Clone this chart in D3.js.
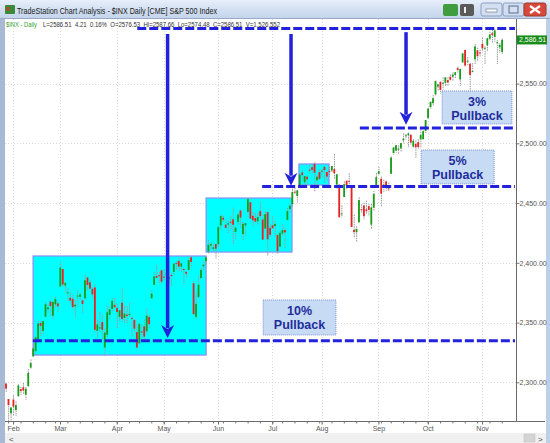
<!DOCTYPE html>
<html>
<head>
<meta charset="utf-8">
<script src="https://cdn.jsdelivr.net/npm/d3@7"></script>
<style>
  body { margin: 0; background: #fff; }
  svg { display: block; }
</style>
</head>
<body>
<div id="chart"></div>
<script>
// 1: DATA
const windowTitle = "TradeStation Chart Analysis - $INX Daily [CME] S&P 500 Index";
const infoSymbol = "$INX - Daily";
const infoFields = ["L=2586.51", "4.21", "0.16%", "O=2576.53", "Hi=2587.66", "Lo=2574.48", "C=2586.51", "V=1,526,552"];
const lastPrice = 2586.51;
const priceTicks = [2300, 2350, 2400, 2450, 2500, 2550];
const monthNames = ["Jan", "Feb", "Mar", "Apr", "May", "Jun", "Jul", "Aug", "Sep", "Oct", "Nov", "Dec"];

// daily bars: date, open, high, low, close
const bars = [
  ["01-27", 2299.0, 2299.0, 2291.6, 2294.7], ["01-30", 2286.0, 2286.0, 2267.2, 2280.9], ["01-31", 2274.0, 2279.1, 2267.8, 2278.9],
  ["02-01", 2285.6, 2289.1, 2272.4, 2279.6], ["02-02", 2276.7, 2284.0, 2271.7, 2280.9], ["02-03", 2288.5, 2298.3, 2287.9, 2297.4],
  ["02-06", 2294.3, 2296.2, 2288.6, 2292.6], ["02-07", 2295.9, 2299.4, 2290.2, 2293.1], ["02-08", 2289.6, 2295.9, 2285.4, 2294.7],
  ["02-09", 2296.7, 2311.1, 2296.6, 2307.9], ["02-10", 2312.3, 2319.2, 2311.1, 2316.1], ["02-13", 2321.7, 2331.6, 2321.4, 2328.3],
  ["02-14", 2326.1, 2337.6, 2322.2, 2337.6], ["02-15", 2335.6, 2351.3, 2334.8, 2349.3], ["02-16", 2349.6, 2351.3, 2338.9, 2347.2],
  ["02-17", 2343.0, 2351.2, 2339.6, 2351.2], ["02-21", 2354.9, 2366.7, 2354.9, 2365.4], ["02-22", 2361.1, 2365.1, 2358.3, 2362.8],
  ["02-23", 2367.5, 2368.3, 2355.1, 2363.8], ["02-24", 2355.7, 2367.3, 2352.9, 2367.3], ["02-27", 2365.2, 2371.5, 2361.9, 2369.8],
  ["02-28", 2366.1, 2367.8, 2359.0, 2363.6],
  ["03-01", 2380.1, 2401.0, 2380.1, 2396.0], ["03-02", 2394.8, 2394.8, 2380.2, 2381.9], ["03-03", 2380.9, 2383.9, 2375.4, 2383.1],
  ["03-06", 2375.2, 2378.8, 2368.0, 2375.3], ["03-07", 2370.7, 2375.1, 2365.5, 2368.4], ["03-08", 2369.8, 2373.1, 2361.0, 2363.0],
  ["03-09", 2363.5, 2369.1, 2354.5, 2364.9], ["03-10", 2372.5, 2376.9, 2363.0, 2372.6], ["03-13", 2371.6, 2374.4, 2368.5, 2373.5],
  ["03-14", 2368.6, 2368.6, 2358.2, 2365.5], ["03-15", 2370.3, 2390.0, 2368.9, 2385.3], ["03-16", 2387.7, 2388.1, 2377.2, 2381.4],
  ["03-17", 2383.7, 2385.7, 2377.6, 2378.3], ["03-20", 2378.2, 2379.6, 2369.7, 2373.5], ["03-21", 2379.3, 2381.9, 2341.9, 2344.0],
  ["03-22", 2343.0, 2351.8, 2336.5, 2348.5], ["03-23", 2345.1, 2358.9, 2342.1, 2346.0], ["03-24", 2350.4, 2356.2, 2335.7, 2344.0],
  ["03-27", 2329.1, 2344.9, 2322.3, 2341.6], ["03-28", 2339.8, 2363.8, 2337.6, 2358.6], ["03-29", 2356.5, 2363.4, 2352.9, 2361.1],
  ["03-30", 2361.3, 2370.4, 2358.6, 2368.1], ["03-31", 2364.8, 2370.4, 2362.6, 2362.7],
  ["04-03", 2362.3, 2365.9, 2344.7, 2358.8], ["04-04", 2354.8, 2360.5, 2350.7, 2360.2], ["04-05", 2366.6, 2378.4, 2350.5, 2353.0],
  ["04-06", 2353.8, 2364.2, 2348.9, 2357.5], ["04-07", 2356.6, 2363.8, 2349.6, 2355.5], ["04-10", 2357.2, 2366.4, 2355.4, 2357.2],
  ["04-11", 2353.9, 2355.2, 2337.3, 2353.8], ["04-12", 2352.2, 2352.7, 2341.2, 2344.9], ["04-13", 2342.0, 2348.3, 2329.0, 2329.0],
  ["04-17", 2332.6, 2349.1, 2332.5, 2349.0], ["04-18", 2342.5, 2348.4, 2334.5, 2342.2], ["04-19", 2346.8, 2352.6, 2335.1, 2338.2],
  ["04-20", 2342.7, 2361.4, 2340.9, 2355.8], ["04-21", 2354.7, 2356.2, 2344.5, 2348.7], ["04-24", 2370.3, 2377.0, 2369.2, 2374.2],
  ["04-25", 2381.5, 2392.5, 2381.2, 2388.6], ["04-26", 2389.0, 2398.2, 2386.8, 2387.5], ["04-27", 2389.7, 2392.1, 2382.4, 2388.8],
  ["04-28", 2393.7, 2393.7, 2382.4, 2384.2],
  ["05-01", 2388.5, 2394.5, 2384.8, 2388.3], ["05-02", 2391.0, 2392.9, 2385.8, 2391.2], ["05-03", 2386.5, 2389.8, 2380.0, 2388.1],
  ["05-04", 2389.8, 2391.4, 2380.4, 2389.5], ["05-05", 2392.4, 2399.3, 2389.4, 2399.3], ["05-08", 2399.9, 2401.4, 2393.6, 2399.4],
  ["05-09", 2401.6, 2403.9, 2392.4, 2396.9], ["05-10", 2396.8, 2399.7, 2392.8, 2399.6], ["05-11", 2394.8, 2395.7, 2381.7, 2394.4],
  ["05-12", 2392.4, 2392.9, 2387.6, 2390.9], ["05-15", 2394.0, 2404.1, 2393.9, 2402.3], ["05-16", 2404.6, 2405.8, 2396.1, 2400.7],
  ["05-17", 2382.9, 2384.9, 2356.2, 2357.0], ["05-18", 2354.7, 2375.7, 2352.7, 2365.7], ["05-19", 2371.4, 2389.1, 2370.4, 2381.7],
  ["05-22", 2387.2, 2395.5, 2386.9, 2394.0], ["05-23", 2397.0, 2400.9, 2393.9, 2398.4], ["05-24", 2401.4, 2405.6, 2398.0, 2404.4],
  ["05-25", 2409.5, 2418.7, 2408.0, 2415.1], ["05-26", 2414.5, 2416.7, 2411.7, 2415.8], ["05-30", 2411.7, 2415.3, 2409.4, 2412.9],
  ["05-31", 2415.6, 2416.0, 2403.6, 2411.8],
  ["06-01", 2415.6, 2430.1, 2413.5, 2430.1], ["06-02", 2431.3, 2440.2, 2427.7, 2439.1], ["06-05", 2437.8, 2439.5, 2434.3, 2436.1],
  ["06-06", 2431.9, 2436.2, 2428.1, 2429.3], ["06-07", 2432.0, 2435.3, 2424.8, 2433.1], ["06-08", 2434.3, 2439.3, 2427.9, 2433.8],
  ["06-09", 2436.4, 2446.2, 2415.7, 2431.8], ["06-12", 2425.9, 2430.4, 2420.0, 2429.4], ["06-13", 2434.2, 2441.5, 2431.3, 2440.4],
  ["06-14", 2443.8, 2443.8, 2428.3, 2437.9], ["06-15", 2424.1, 2434.0, 2418.5, 2432.5], ["06-16", 2431.2, 2433.2, 2422.9, 2433.2],
  ["06-19", 2442.6, 2453.8, 2441.8, 2453.5], ["06-20", 2450.7, 2450.7, 2436.6, 2437.0], ["06-21", 2439.3, 2442.2, 2430.7, 2435.6],
  ["06-22", 2437.4, 2441.6, 2433.3, 2434.5], ["06-23", 2434.7, 2441.4, 2431.1, 2438.3], ["06-26", 2443.3, 2450.4, 2437.6, 2439.1],
  ["06-27", 2436.3, 2440.2, 2419.4, 2419.4], ["06-28", 2428.7, 2443.0, 2428.0, 2440.7], ["06-29", 2442.4, 2442.7, 2405.7, 2419.7],
  ["06-30", 2429.2, 2432.7, 2421.6, 2423.4],
  ["07-03", 2431.4, 2439.2, 2428.7, 2429.0], ["07-05", 2430.8, 2434.9, 2422.1, 2432.5], ["07-06", 2423.2, 2424.3, 2407.7, 2409.8],
  ["07-07", 2413.5, 2426.9, 2413.5, 2425.2], ["07-10", 2424.5, 2432.0, 2422.3, 2427.4], ["07-11", 2427.4, 2429.3, 2412.8, 2425.5],
  ["07-12", 2435.8, 2445.8, 2435.8, 2443.3], ["07-13", 2445.0, 2449.3, 2441.4, 2447.8], ["07-14", 2449.2, 2463.5, 2446.7, 2459.3],
  ["07-17", 2459.5, 2462.8, 2457.2, 2459.1], ["07-18", 2455.9, 2460.9, 2450.3, 2460.6], ["07-19", 2463.9, 2473.8, 2463.9, 2473.8],
  ["07-20", 2475.6, 2477.6, 2468.4, 2473.5], ["07-21", 2467.4, 2472.5, 2465.1, 2472.5], ["07-24", 2472.0, 2473.1, 2466.3, 2469.9],
  ["07-25", 2477.9, 2481.2, 2474.9, 2477.1], ["07-26", 2480.0, 2481.7, 2474.9, 2477.8], ["07-27", 2482.8, 2484.0, 2459.9, 2475.4],
  ["07-28", 2469.1, 2473.5, 2464.7, 2472.1], ["07-31", 2475.9, 2478.0, 2468.5, 2470.3],
  ["08-01", 2477.1, 2478.5, 2471.1, 2476.4], ["08-02", 2480.4, 2480.4, 2466.5, 2477.6], ["08-03", 2476.0, 2476.0, 2468.9, 2472.2],
  ["08-04", 2476.9, 2480.4, 2472.1, 2476.8], ["08-07", 2477.1, 2481.0, 2475.9, 2480.9], ["08-08", 2478.4, 2490.9, 2470.3, 2474.9],
  ["08-09", 2465.4, 2474.4, 2462.1, 2474.0], ["08-10", 2465.4, 2465.4, 2437.8, 2438.2], ["08-11", 2441.0, 2448.1, 2437.9, 2441.3],
  ["08-14", 2455.0, 2468.2, 2455.0, 2465.8], ["08-15", 2468.7, 2468.7, 2460.8, 2464.6], ["08-16", 2468.6, 2474.9, 2463.9, 2468.1],
  ["08-17", 2463.0, 2465.0, 2430.0, 2430.0], ["08-18", 2427.6, 2440.3, 2420.7, 2425.6], ["08-21", 2425.5, 2430.6, 2417.4, 2428.4],
  ["08-22", 2433.8, 2454.8, 2433.7, 2452.5], ["08-23", 2444.9, 2448.9, 2441.4, 2444.0], ["08-24", 2447.9, 2450.4, 2436.2, 2439.0],
  ["08-25", 2444.7, 2452.0, 2441.0, 2443.1], ["08-28", 2447.4, 2449.1, 2439.0, 2444.2], ["08-29", 2431.9, 2449.2, 2428.2, 2446.3],
  ["08-30", 2446.1, 2460.3, 2443.8, 2457.6], ["08-31", 2462.6, 2475.0, 2462.6, 2471.7],
  ["09-01", 2474.4, 2480.4, 2473.9, 2476.6], ["09-05", 2470.4, 2472.0, 2446.6, 2457.9], ["09-06", 2463.8, 2469.6, 2459.2, 2465.5],
  ["09-07", 2468.1, 2468.6, 2460.3, 2465.1], ["09-08", 2462.3, 2467.1, 2459.4, 2461.4], ["09-11", 2474.5, 2489.0, 2474.5, 2488.1],
  ["09-12", 2491.9, 2496.8, 2490.4, 2496.5], ["09-13", 2493.9, 2498.4, 2492.1, 2498.4], ["09-14", 2494.6, 2498.4, 2491.4, 2495.6],
  ["09-15", 2495.7, 2500.2, 2493.2, 2500.2], ["09-18", 2502.5, 2508.3, 2499.9, 2503.9], ["09-19", 2506.3, 2507.8, 2503.2, 2506.7],
  ["09-20", 2506.8, 2508.9, 2496.7, 2508.2], ["09-21", 2507.2, 2507.2, 2499.0, 2500.6], ["09-22", 2497.3, 2503.5, 2496.5, 2502.2],
  ["09-25", 2499.4, 2502.5, 2488.0, 2496.7], ["09-26", 2501.0, 2503.5, 2495.1, 2496.8], ["09-27", 2503.3, 2511.8, 2495.9, 2507.0],
  ["09-28", 2503.4, 2510.8, 2502.9, 2510.1], ["09-29", 2510.4, 2519.4, 2508.0, 2519.4],
  ["10-02", 2521.2, 2529.2, 2520.4, 2529.1], ["10-03", 2530.3, 2535.1, 2528.9, 2534.6], ["10-04", 2533.5, 2540.5, 2531.8, 2537.7],
  ["10-05", 2540.9, 2552.5, 2540.0, 2552.1], ["10-06", 2547.4, 2549.4, 2543.8, 2549.3], ["10-09", 2551.4, 2551.8, 2541.6, 2544.7],
  ["10-10", 2550.0, 2555.2, 2544.9, 2550.6], ["10-11", 2550.6, 2555.2, 2548.0, 2555.2], ["10-12", 2552.9, 2555.3, 2548.3, 2550.9],
  ["10-13", 2555.7, 2557.7, 2552.0, 2553.2], ["10-16", 2555.6, 2559.5, 2551.9, 2557.6], ["10-17", 2557.2, 2559.7, 2554.0, 2559.4],
  ["10-18", 2562.9, 2564.1, 2559.2, 2561.3], ["10-19", 2553.4, 2562.4, 2547.9, 2562.1], ["10-20", 2567.6, 2575.4, 2567.6, 2575.2],
  ["10-23", 2578.1, 2578.3, 2564.3, 2565.0], ["10-24", 2568.7, 2572.2, 2565.6, 2569.1], ["10-25", 2566.5, 2567.4, 2544.0, 2557.2],
  ["10-26", 2560.1, 2567.1, 2559.5, 2560.4], ["10-27", 2570.3, 2583.0, 2565.9, 2581.1], ["10-30", 2577.8, 2580.0, 2568.4, 2572.8],
  ["10-31", 2576.0, 2578.3, 2572.2, 2575.3],
  ["11-01", 2583.2, 2588.4, 2576.8, 2579.4], ["11-02", 2579.5, 2581.1, 2566.2, 2579.9], ["11-03", 2581.9, 2588.4, 2576.8, 2587.8],
  ["11-06", 2587.5, 2593.4, 2585.7, 2591.1], ["11-07", 2592.1, 2597.0, 2584.1, 2590.6], ["11-08", 2589.0, 2595.5, 2585.0, 2594.4],
  ["11-09", 2584.0, 2586.5, 2566.3, 2584.6], ["11-10", 2580.2, 2583.8, 2575.6, 2582.3], ["11-13", 2576.5, 2587.7, 2574.5, 2586.5]
];

// annotations (bar index, price)
const consolidationBoxes = [
  { from: 11.1, to: 81.2, top: 2405.7, bottom: 2322.8 },
  { from: 81.2, to: 116.0, top: 2454.2, bottom: 2409.0 },
  { from: 118.8, to: 131.0, top: 2482.7, bottom: 2465.1 }
];
const levelLines = [
  { from: 53.3, price: 2596.1 },
  { from: 143.5, price: 2512.8 },
  { from: 103.9, price: 2463.8 },
  { from: 11.0, price: 2334.8 }
];
const arrows = [
  { at: 65.6, from: 2591.5, to: 2337.0 },
  { at: 115.6, from: 2591.5, to: 2464.5 },
  { at: 162.2, from: 2593.0, to: 2515.5 }
];
const pullbackLabels = [
  { pct: "3%", from: 176.8, to: 205.1, top: 2543.8, bottom: 2516.2 },
  { pct: "5%", from: 168.3, to: 197.9, top: 2494.4, bottom: 2466.0 },
  { pct: "10%", from: 104.3, to: 133.8, top: 2368.9, bottom: 2339.6 }
];

// 2: SETUP
const W = 550, H = 443;
const plot = { left: 5, right: 516, top: 19, bottom: 421 };
const font = "'Liberation Sans', Arial, sans-serif";
const blue = "#2222dd";

const parseDay = d3.timeParse("%Y-%m-%d");
const days = bars.map(b => parseDay("2017-" + b[0]));

const x = d3.scaleLinear().domain([0, bars.length - 1]).range([5.7, 501.8]);
const y = d3.scaleLinear().domain([2300, 2550]).range([382.3, 83.55]);

const svg = d3.select("#chart").append("svg")
  .attr("width", W).attr("height", H)
  .style("font-family", font);

const defs = svg.append("defs");
const grad = defs.append("linearGradient").attr("id", "titleGrad").attr("x1", 0).attr("x2", 0).attr("y1", 0).attr("y2", 1);
grad.append("stop").attr("offset", "0%").attr("stop-color", "#e6eef9");
grad.append("stop").attr("offset", "100%").attr("stop-color", "#c3d4ec");

// window frame
svg.append("rect").attr("width", W).attr("height", H).attr("fill", "#fff");
svg.append("rect").attr("x", 0).attr("y", 0).attr("width", 5).attr("height", H).attr("fill", "#a7b9d3");
svg.append("rect").attr("x", 546).attr("y", 18).attr("width", 4).attr("height", H).attr("fill", "#bcd0ea");

// title bar
svg.append("rect").attr("width", W).attr("height", 18).attr("fill", "url(#titleGrad)");
svg.append("line").attr("x1", 0).attr("x2", W).attr("y1", 18.5).attr("y2", 18.5).attr("stroke", "#98aac6");
svg.append("rect").attr("x", 5).attr("y", 5).attr("width", 10).attr("height", 9).attr("fill", "#3a8a3a").attr("rx", 1);
svg.append("rect").attr("x", 7).attr("y", 7).attr("width", 2).attr("height", 4).attr("fill", "#e23030");
svg.append("text").attr("x", 17).attr("y", 13.5)
  .attr("textLength", 200).attr("lengthAdjust", "spacingAndGlyphs")
  .style("font-size", "9px").attr("fill", "#1b1b1b").text(windowTitle);

// title buttons
svg.append("rect").attr("x", 443).attr("y", 4).attr("width", 15).attr("height", 12).attr("rx", 2).attr("fill", "#3f9d3f");
svg.append("rect").attr("x", 460).attr("y", 4).attr("width", 14).attr("height", 12).attr("rx", 2).attr("fill", "#5a5a5a");
svg.append("rect").attr("x", 464).attr("y", 7).attr("width", 2).attr("height", 6).attr("fill", "#eee");
[481, 503].forEach(bx => {
  svg.append("rect").attr("x", bx).attr("y", 3).attr("width", 21).attr("height", 13).attr("rx", 2)
    .attr("fill", "#d3def0").attr("stroke", "#8ca0c0");
});
svg.append("rect").attr("x", 486).attr("y", 9).attr("width", 11).attr("height", 3).attr("fill", "#fff").attr("stroke", "#5a6f90").attr("stroke-width", 0.6);
svg.append("rect").attr("x", 509).attr("y", 6).attr("width", 9).attr("height", 7).attr("fill", "none").attr("stroke", "#5a6f90");
svg.append("rect").attr("x", 524).attr("y", 3).attr("width", 22).attr("height", 13).attr("rx", 2).attr("fill", "#d8493b").attr("stroke", "#9a3a30");
svg.append("path").attr("d", "M530,6L540,13M540,6L530,13").attr("stroke", "#fff").attr("stroke-width", 2.2);

// 3: GRID
const monthStarts = d3.range(1, bars.length).filter(i => days[i].getMonth() !== days[i - 1].getMonth());
const weekStarts = d3.range(1, bars.length).filter(i => +d3.timeMonday.floor(days[i]) !== +d3.timeMonday.floor(days[i - 1]));

const grid = svg.append("g").attr("stroke", "#d9d9d9").attr("stroke-dasharray", "1,2");
grid.selectAll(".vg").data(monthStarts).join("line")
  .attr("x1", i => Math.round(x(i)) + 0.5).attr("x2", i => Math.round(x(i)) + 0.5)
  .attr("y1", plot.top).attr("y2", plot.bottom);
grid.selectAll(".hg").data(priceTicks).join("line")
  .attr("x1", plot.left).attr("x2", plot.right)
  .attr("y1", d => Math.round(y(d)) + 0.5).attr("y2", d => Math.round(y(d)) + 0.5);

// 4: CONSOLIDATION BOXES
svg.append("g").selectAll("rect").data(consolidationBoxes).join("rect")
  .attr("x", d => x(d.from)).attr("width", d => x(d.to) - x(d.from))
  .attr("y", d => y(d.top)).attr("height", d => y(d.bottom) - y(d.top))
  .attr("fill", "#00ffff").attr("stroke", "#8a8cf2").attr("stroke-width", 1.2);

// 5: BARS
const barG = svg.append("g");
barG.selectAll(".wick").data(bars).join("line")
  .attr("x1", (d, i) => x(i) + 0.5).attr("x2", (d, i) => x(i) + 0.5)
  .attr("y1", d => y(d[2])).attr("y2", d => y(d[3]))
  .attr("stroke", "#9a9a9a").attr("stroke-width", 1).attr("stroke-dasharray", "1.5,0.8");
barG.selectAll(".body").data(bars).join("rect")
  .attr("x", (d, i) => x(i) - 0.6).attr("width", 1.8)
  .attr("y", d => y(Math.max(d[1], d[4])))
  .attr("height", d => Math.max(1, Math.abs(y(d[1]) - y(d[4]))))
  .attr("fill", d => d[4] >= d[1] ? "#169c16" : "#e82222");

// 6: LEVEL LINES AND ARROWS
svg.append("g").selectAll("line").data(levelLines).join("line")
  .attr("x1", d => x(d.from)).attr("x2", plot.right - 1)
  .attr("y1", d => y(d.price)).attr("y2", d => y(d.price))
  .attr("stroke", blue).attr("stroke-width", 3).attr("stroke-dasharray", "9,3");

const arrowG = svg.append("g").selectAll("g").data(arrows).join("g");
arrowG.append("line")
  .attr("x1", d => x(d.at)).attr("x2", d => x(d.at))
  .attr("y1", d => y(d.from)).attr("y2", d => y(d.to) - 10)
  .attr("stroke", blue).attr("stroke-width", 3.5);
arrowG.append("path")
  .attr("d", d => {
    const ax = x(d.at), ay = y(d.to);
    return `M${ax - 6.5},${ay - 13}L${ax},${ay - 9}L${ax + 6.5},${ay - 13}L${ax},${ay}Z`;
  })
  .attr("fill", blue);

// 7: PULLBACK LABELS
const labelG = svg.append("g").selectAll("g").data(pullbackLabels).join("g");
labelG.append("rect")
  .attr("x", d => x(d.from)).attr("width", d => x(d.to) - x(d.from))
  .attr("y", d => y(d.top)).attr("height", d => y(d.bottom) - y(d.top))
  .attr("fill", "#c8dbf5").attr("stroke", "#5b78d0").attr("stroke-width", 0.8).attr("stroke-dasharray", "1,1");
labelG.append("text")
  .attr("x", d => (x(d.from) + x(d.to)) / 2)
  .attr("y", d => y(d.top) + 15)
  .attr("text-anchor", "middle").style("font-size", "12.5px").style("font-weight", "bold")
  .attr("fill", "#1d2e9c").text(d => d.pct);
labelG.append("text")
  .attr("x", d => (x(d.from) + x(d.to)) / 2)
  .attr("y", d => y(d.top) + 29.5)
  .attr("text-anchor", "middle").style("font-size", "12.5px").style("font-weight", "bold")
  .attr("fill", "#1d2e9c").text("Pullback");

// 8: AXES
const yAxis = svg.append("g")
  .attr("transform", `translate(${plot.right + 0.5},0)`)
  .call(d3.axisRight(y).tickValues(priceTicks).tickFormat(d3.format(",.2f")).tickSize(3).tickPadding(0));
yAxis.select(".domain").remove();
yAxis.selectAll("line").attr("stroke", "#777");
yAxis.selectAll("text").style("font-size", "7px").style("font-family", font).attr("fill", "#555");
svg.append("line").attr("x1", plot.right + 0.5).attr("x2", plot.right + 0.5)
  .attr("y1", plot.top).attr("y2", plot.bottom).attr("stroke", "#6a6a6a");

const xAxis = svg.append("g")
  .attr("transform", `translate(0,${plot.bottom + 0.5})`)
  .call(d3.axisBottom(x).tickValues(weekStarts).tickSize(2).tickFormat(""));
xAxis.select(".domain").remove();
xAxis.selectAll("line").attr("stroke", "#777");
const xLabels = svg.append("g")
  .attr("transform", `translate(0,${plot.bottom + 0.5})`)
  .call(d3.axisBottom(x).tickValues(monthStarts).tickSize(3).tickPadding(2)
    .tickFormat(i => monthNames[days[i].getMonth()]));
xLabels.select(".domain").remove();
xLabels.selectAll("line").attr("stroke", "#666");
xLabels.selectAll("text").style("font-size", "7px").style("font-family", font).attr("fill", "#555");
svg.append("line").attr("x1", plot.left).attr("x2", 545).attr("y1", plot.bottom + 0.5).attr("y2", plot.bottom + 0.5).attr("stroke", "#6a6a6a");

// last price marker
svg.append("rect").attr("x", plot.right + 1).attr("y", y(lastPrice) - 4.5).attr("width", 30).attr("height", 9).attr("fill", "#168c16");
svg.append("text").attr("x", plot.right + 3).attr("y", y(lastPrice) + 2.5)
  .style("font-size", "7px").attr("fill", "#fff").text(d3.format(",.2f")(lastPrice));

// info line (symbol, then quote fields)
svg.append("text").attr("x", 6).attr("y", 27)
  .attr("textLength", 31).attr("lengthAdjust", "spacingAndGlyphs")
  .style("font-size", "7.5px").attr("fill", "#2f9f2f").text(infoSymbol);
svg.append("text").attr("x", 43).attr("y", 27)
  .attr("textLength", 237).attr("lengthAdjust", "spacingAndGlyphs")
  .style("white-space", "pre")
  .style("font-size", "7.5px").attr("fill", "#333").text(infoFields.join("  "));

// scroll bar
svg.append("rect").attr("x", 5).attr("y", 433).attr("width", 541).attr("height", 10).attr("fill", "#f0f0f0");
svg.append("rect").attr("x", 524).attr("y", 434).attr("width", 11).attr("height", 8).attr("fill", "#d4d4d4").attr("stroke", "#bbb").attr("stroke-width", 0.5);
svg.append("text").attr("x", 9).attr("y", 441.5).style("font-size", "8px").attr("fill", "#444").text("<");
svg.append("text").attr("x", 538).attr("y", 441.5).style("font-size", "8px").attr("fill", "#444").text(">");
</script>
</body>
</html>
